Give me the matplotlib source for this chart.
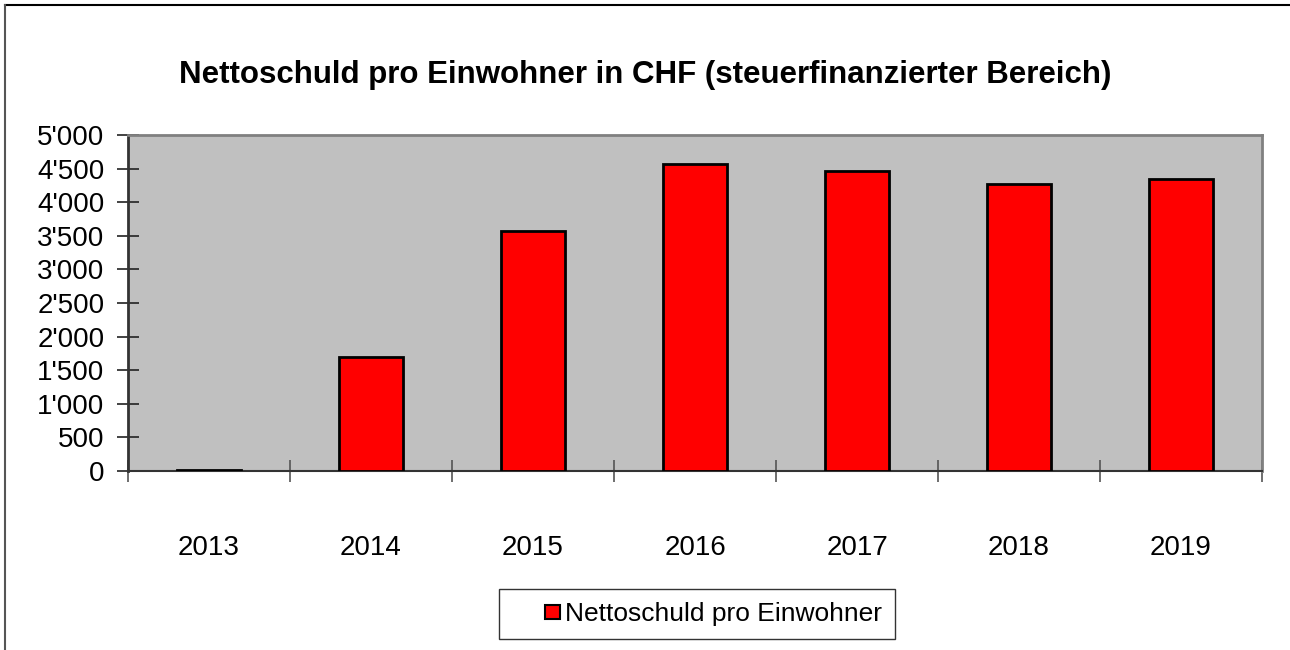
import numpy as np
import matplotlib.pyplot as plt
from matplotlib.lines import Line2D
from matplotlib.patches import Rectangle
from matplotlib.container import BarContainer
from matplotlib.legend_handler import HandlerPatch, update_from_first_child
from matplotlib.ticker import FuncFormatter

plt.rcParams["font.family"] = ["Liberation Sans", "DejaVu Sans"]

years = ["2013", "2014", "2015", "2016", "2017", "2018", "2019"]
debt_per_capita = [10, 1695, 3575, 4570, 4465, 4270, 4345]
series_label = "Nettoschuld pro Einwohner"
title = "Nettoschuld pro Einwohner in CHF (steuerfinanzierter Bereich)"

fig = plt.figure(figsize=(12.9, 6.5), dpi=100)
ax = fig.add_axes([128 / 1290, 1 - 471 / 650, 1134 / 1290, 336 / 650])
ax.set_facecolor("#c0c0c0")

x = np.arange(len(years))
ax.bar(x, debt_per_capita, width=0.4, color="#ff0000", edgecolor="black",
       linewidth=2, label=series_label, zorder=3)

ax.set_xlim(-0.5, len(years) - 0.5)
ax.set_ylim(0, 5000)
ax.set_yticks(np.arange(0, 5001, 500))
ax.yaxis.set_major_formatter(FuncFormatter(lambda v, p: f"{int(v):,}".replace(",", "'")))
ax.set_xticks(x)
ax.set_xticklabels(years)
ax.set_xticks(np.arange(-0.5, len(years)), minor=True)

ax.tick_params(axis="y", direction="inout", length=16, width=1.2, color="#222222",
               labelsize=20, pad=9)
ax.tick_params(axis="x", which="major", length=0, labelsize=20, pad=46)
ax.tick_params(axis="x", which="minor", direction="inout", length=16, width=1.2,
               color="#555555")

for side in ["top", "right"]:
    ax.spines[side].set_color("#808080")
    ax.spines[side].set_linewidth(2)
ax.spines["left"].set_color("#333333")
ax.spines["left"].set_linewidth(2)
ax.spines["bottom"].set_color("#333333")
ax.spines["bottom"].set_linewidth(1.5)

fig.text(645 / 1290, 1 - 75 / 650, title, ha="center", va="center",
         fontsize=22.5, fontweight="bold")


# small square marker placed at the right end of the handle box
def square_right(legend, orig_handle, xdescent, ydescent, width, height, fontsize):
    s = 0.55 * fontsize
    return Rectangle((width - s - xdescent, (height - s) / 2 - ydescent), s, s)


leg = fig.legend(loc="center", bbox_to_anchor=(697 / 1290, 1 - 614 / 650),
                 fontsize=19, frameon=True, fancybox=False, handlelength=1.8,
                 handletextpad=0.2, borderpad=0.5,
                 handler_map={BarContainer: HandlerPatch(patch_func=square_right,
                                                         update_func=update_from_first_child)})
leg.get_frame().set_edgecolor("black")
leg.get_frame().set_linewidth(1)
for h in leg.legend_handles:
    h.set_linewidth(1.5)

# outer chart border (top and left edges visible)
fig.add_artist(Line2D([5 / 1290, 1], [1 - 5 / 650, 1 - 5 / 650], color="black", lw=1.5))
fig.add_artist(Line2D([5 / 1290, 5 / 1290], [0, 1 - 5 / 650], color="#555555", lw=1.5))

fig.savefig("out.png", dpi=100, facecolor="white")
